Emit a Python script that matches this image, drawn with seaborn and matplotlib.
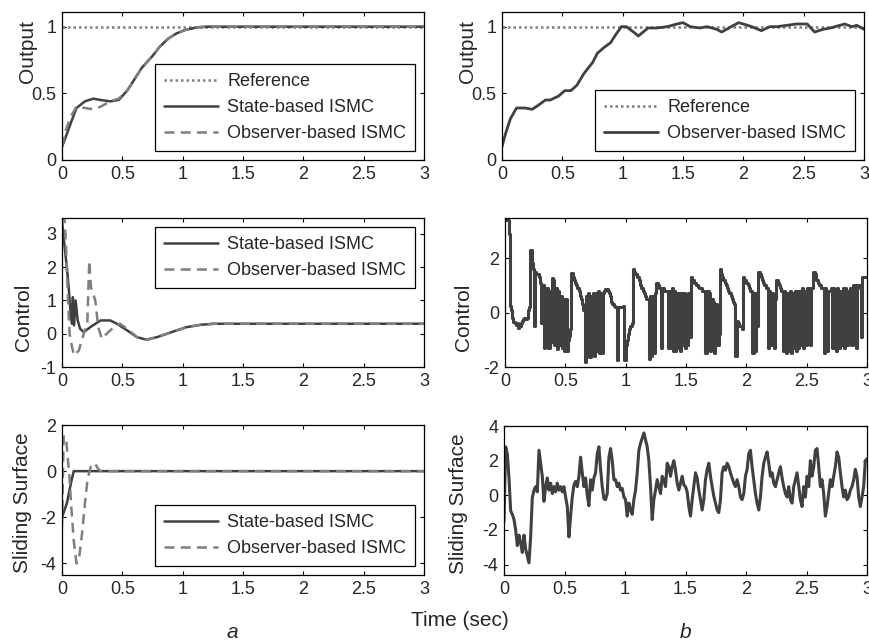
import numpy as np
import pandas as pd
import matplotlib
matplotlib.use("Agg")
import matplotlib.pyplot as plt
from matplotlib.ticker import FuncFormatter
import seaborn as sns

sns.set_theme(style="white")
plt.rcParams['font.family'] = ['Liberation Sans', 'DejaVu Sans']
FS_TICK = 13
FS_LEG = 13
FS_LAB = 15

DARK = "#404040"
GRAY = "#7f7f7f"

# ---------------- data: column a ----------------
t_out_a = [0, 0.03, 0.07, 0.12, 0.19, 0.26, 0.32, 0.4, 0.47, 0.54, 0.59, 0.66, 0.75,
           0.81, 0.88, 0.95, 1.02, 1.12, 1.2, 3.0]
out_state_a = [0.1, 0.17, 0.27, 0.39, 0.44, 0.46, 0.45, 0.44, 0.45, 0.52, 0.59, 0.69,
               0.78, 0.85, 0.91, 0.95, 0.975, 0.995, 1.0, 1.0]
out_obs_a = [0.1, 0.22, 0.32, 0.40, 0.39, 0.38, 0.40, 0.44, 0.46, 0.52, 0.59, 0.69,
             0.78, 0.85, 0.91, 0.95, 0.975, 0.995, 1.0, 1.0]
reference = [1.0, 1.0]
t_ref = [0, 3]

t_ctrl_state_a = [0, 0.01, 0.04, 0.055, 0.07, 0.083, 0.09, 0.10, 0.113, 0.13, 0.15, 0.18,
                  0.235, 0.32, 0.4, 0.455, 0.54, 0.62, 0.7, 0.79, 0.87, 0.95, 1.035,
                  1.15, 1.26, 3.0]
ctrl_state_a = [3.4, 3.0, 2.0, 1.4, 0.7, 0.3, 1.1, 0.25, 1.0, 0.4, 0.15, 0.05, 0.2, 0.4,
                0.4, 0.3, 0.1, -0.1, -0.18, -0.1, 0.0, 0.1, 0.2, 0.27, 0.3, 0.3]
t_ctrl_obs_a = [0, 0.02, 0.035, 0.05, 0.063, 0.083, 0.1, 0.14, 0.18, 0.21, 0.226, 0.24,
                0.276, 0.30, 0.33, 0.37, 0.43, 0.48, 0.54, 0.62, 0.7, 0.79, 0.87, 0.95,
                1.035, 1.15, 1.26, 3.0]
ctrl_obs_a = [3.4, 3.5, 2.5, 1.0, 0.0, -0.4, -0.65, -0.5, 0.0, 0.35, 2.2, 1.4, 1.0, 0.2,
              -0.15, 0.0, 0.2, 0.3, 0.15, -0.1, -0.18, -0.1, 0.0, 0.1, 0.2, 0.27, 0.3, 0.3]

t_ss_state_a = [0, 0.04, 0.075, 0.097, 3.0]
ss_state_a = [-2.0, -1.4, -0.5, 0.0, 0.0]
t_ss_obs_a = [0, 0.014, 0.033, 0.047, 0.062, 0.075, 0.097, 0.12, 0.14, 0.166, 0.193,
              0.213, 0.24, 0.27, 0.3, 0.32, 3.0]
ss_obs_a = [-2.4, 1.5, 1.5, 0.6, -0.25, -1.4, -3.0, -4.0, -3.85, -2.7, -1.25, -0.3,
            0.2, 0.35, 0.1, 0.0, 0.0]

# ---------------- data: column b ----------------
t_out_b = [0, 0.03, 0.07, 0.12, 0.19, 0.25, 0.3, 0.36, 0.4, 0.47, 0.52, 0.57, 0.62,
           0.68, 0.75, 0.79, 0.84, 0.9, 0.95, 0.99, 1.03, 1.09, 1.13, 1.17, 1.21, 1.28,
           1.37, 1.45, 1.5, 1.56, 1.64, 1.70, 1.78, 1.82, 1.88, 1.96, 2.0, 2.07, 2.15,
           2.22, 2.28, 2.36, 2.44, 2.53, 2.59, 2.66, 2.72, 2.8, 2.84, 2.9, 2.94, 3.0]
out_b = [0.1, 0.2, 0.31, 0.39, 0.39, 0.38, 0.41, 0.45, 0.45, 0.48, 0.52, 0.52, 0.56,
         0.65, 0.73, 0.8, 0.84, 0.88, 0.95, 1.0, 1.0, 0.96, 0.93, 0.96, 0.99, 0.99,
         1.0, 1.02, 1.03, 1.0, 0.99, 1.0, 0.98, 0.96, 0.99, 1.03, 1.02, 1.0, 0.97,
         1.0, 1.0, 1.01, 1.02, 1.02, 0.96, 0.98, 0.99, 1.01, 1.02, 1.0, 1.01, 0.98]

# control, sampled every 0.01 s (301 values)
ctrl_b = [
    3.4, 3.5, 3.4, 2.9, 0.25, 0.1, -0.2, -0.35, -0.4, -0.45,
    -0.4, -0.55, -0.5, -0.4, -0.3, -0.25, -0.2, -0.25, -0.2, 0.1,
    0.2, 2.3, 1.8, 1.6, -0.5, 1.5, 1.4, 1.4, 1.3, 1.1,
    -0.4, 1.0, -1.3, 0.9, -1.2, 0.9, -1.3, 0.8, -1.1, 1.25,
    1.2, -1.2, 0.9, -1.35, 0.8, -1.2, 0.6, -1.3, 0.5, -1.4,
    0.5, -1.4, -1.0, -0.85, -0.6, 1.45, 1.3, 1.2, 1.1, 1.0,
    0.9, 0.8, 0.6, 0.5, 0.3, 0.1, -1.8, 0.6, -1.6, 0.7,
    -1.65, 0.6, -1.5, 0.7, -1.6, 0.7, -1.4, 0.8, -1.5, 0.7,
    -1.5, 0.7, 0.8, 0.85, 0.85, 0.8, 0.7, 0.6, 0.4, 0.3,
    0.25, 0.2, 0.2, -1.75, 0.2, 0.2, 0.2, 0.2, 0.25, -1.75,
    -1.2, -1.0, -0.8, -0.6, -0.5, -0.4, 1.6, 1.5, 1.4, 1.3,
    1.3, 1.2, 1.0, 0.9, 0.8, 0.7, 0.6, 0.5, 0.5, -1.7,
    0.6, -1.6, 0.6, -1.5, 0.7, 1.1, 1.1, 1.0, 0.9, -1.3,
    0.9, 0.9, 0.8, 0.8, 0.8, -1.3, 0.8, -1.3, 0.9, -1.4,
    0.8, -1.4, 0.7, -1.3, 0.7, -1.4, 0.7, -1.2, 0.7, -1.3,
    0.6, -1.2, 0.7, -0.9, 1.3, 1.2, 1.2, 1.1, 1.0, 1.0,
    0.95, 0.9, 0.9, 0.8, 0.8, 0.8, -1.5, 0.8, 0.8, 0.7,
    -1.4, 0.5, 0.4, -1.5, 0.3, 0.3, -1.2, -0.8, 1.6, 1.4,
    1.3, 1.2, 1.1, 1.0, 0.9, 0.8, 0.7, 0.6, 0.5, 0.4,
    0.3, -1.6, -0.3, -0.4, -0.5, -0.5, -0.6, 1.3, 1.2, 1.2,
    1.1, 1.0, 0.9, 0.8, 0.8, -1.5, 0.7, -1.4, 0.7, -0.5,
    1.5, 1.4, 1.3, 1.2, 1.1, 1.0, 0.9, 0.9, -1.3, 0.8,
    -1.2, 0.7, 0.6, -1.3, 0.5, 1.2, 1.1, 1.0, 0.9, 0.8,
    -1.4, 0.8, -1.4, -1.5, 0.7, -1.4, 0.8, -1.5, 0.7, -1.3,
    0.8, -1.4, 0.8, -1.3, 0.8, -1.2, 0.9, -1.3, 0.8, -1.2,
    0.9, -1.1, 0.9, -1.2, 0.9, 1.5, 1.5, 1.4, 1.2, 1.1,
    1.0, 1.0, 0.9, 0.9, -1.5, 0.9, -1.4, -1.4, 0.8, 0.8,
    0.9, -1.3, 0.9, -1.3, -1.4, 0.9, -1.2, -1.3, 0.8, -1.2,
    0.9, -1.3, 0.9, -1.2, 0.8, -1.1, 0.9, -1.2, 1.0, 1.0,
    1.0, -1.3, 1.0, 1.0, 0.9, -0.9, 1.3, 1.3, 1.3, 1.3,
    1.3,
]

ss_b = [
    -1.5, 2.8, 2.4, 1.0, -0.9, -1.1, -1.4, -2.0, -2.9, -2.3,
    -2.75, -3.3, -2.3, -3.1, -3.5, -3.9, -2.4, -0.15, 0.3, 0.5,
    0.2, 2.6, 1.85, 1.1, -0.35, 0.5, 1.0, 0.3, 0.7, 0.1,
    0.5, 0.2, 0.7, 0.3, 0.5, 0.2, 0.5, -0.1, -0.65, -2.4,
    -1.2, -0.1, 0.6, 0.8, 0.5, 1.1, 2.2, 1.3, 0.5, 1.0,
    0.0, -0.6, 0.9, 0.3, 1.0, 1.3, 2.4, 2.8, 1.5, 0.5,
    -0.2, -0.25, 0.1, 2.2, 2.7, 2.0, 0.9, 0.9, 0.5, 0.7,
    0.3, 0.4, -0.1, -0.25, -1.2, -0.45, -0.85, -1.1, -0.25, 0.3,
    1.3, 2.6, 3.0, 3.3, 3.6, 3.2, 2.8, 2.0, 0.5, -1.4,
    -0.25, 0.3, 0.9, 0.5, 0.1, 1.1, 0.9, 0.5, 1.85, 1.65,
    1.1, 1.65, 2.0, 1.45, 0.7, 0.3, 0.7, 1.1, 0.6,
    0.5, 0.2, -0.65, -1.2, -0.25, 0.5, 1.3, 1.0, 0.3, -0.25,
    -0.85, -0.25, 0.9, 1.5, 1.85, 1.1, 0.5, -0.05, -0.45, -0.85,
    -1.0, -0.25, 1.3, 1.65, 1.45, 1.85, 1.65, 1.3, 1.0, 0.7,
    0.5, 0.9, 0.5, -0.1, -0.25, 0.1, 1.1, 1.5, 2.4, 2.6,
    1.65, 0.9, 0.1, -0.45, -0.85, -0.1, 1.1, 1.85, 2.2, 2.5,
    1.85, 1.1, 1.3, 0.7, 0.5, 0.9, 1.3, 1.65, 1.0, 0.5,
    0.1, -0.1, 0.5, -0.25, -0.45, 0.5, 0.9, 1.3, 0.5, -0.25,
    -0.65, 0.5, -0.1, 1.1, 0.5, 2.0, 1.1, 1.65, 2.6, 2.7,
    1.65, 0.5, 0.9, 0.1, -1.2, -0.65, 0.1, 0.9, 0.5, 1.1,
    1.65, 2.5, 2.2, 1.3, 0.5, -0.1, 0.3, -0.25, -0.1, 0.3,
    0.5, 0.9, 1.5, 1.1, -0.1, -0.65, -0.1, 0.5, 2.0, 2.1,
]

t_ctrl_b = np.linspace(0, 3, len(ctrl_b))
t_ss_b = np.linspace(0, 3, len(ss_b))

xticks = [0, 0.5, 1, 1.5, 2, 2.5, 3]
fmt = FuncFormatter(lambda v, p: f"{v:g}")

# ---------------- figure ----------------
W, H = 870, 642
fig = plt.figure(figsize=(W / 100, H / 100), dpi=100)


def make_ax(l, r, top, bot):
    return fig.add_axes([l / W, 1 - bot / H, (r - l) / W, (bot - top) / H])


axes = {
    "TL": make_ax(62, 424, 12, 160),
    "TR": make_ax(502, 864, 12, 160),
    "ML": make_ax(62, 424, 218, 367),
    "MR": make_ax(505, 867, 218, 367),
    "BL": make_ax(62, 424, 425, 575),
    "BR": make_ax(504, 867, 426, 575),
}


def line(ax, x, y, **kw):
    df = pd.DataFrame({"t": x, "y": y})
    sns.lineplot(data=df, x="t", y="y", ax=ax, estimator=None, sort=False, **kw)


DOT = (0, (1, 1.2))
DASH = (0, (4, 2.5))

# Top-left
ax = axes["TL"]
line(ax, t_ref, reference, color=GRAY, lw=1.8, ls=DOT, label="Reference")
line(ax, t_out_a, out_state_a, color=DARK, lw=1.8, label="State-based ISMC")
line(ax, t_out_a, out_obs_a, color=GRAY, lw=1.8, ls=DASH, label="Observer-based ISMC")
ax.set_ylim(0, 1.11)
ax.set_yticks([0, 0.5, 1])
ax.set_ylabel("Output")

# Top-right
ax = axes["TR"]
line(ax, t_ref, reference, color=GRAY, lw=1.8, ls=DOT, label="Reference")
line(ax, t_out_b, out_b, color=DARK, lw=2.0, label="Observer-based ISMC")
ax.set_ylim(0, 1.11)
ax.set_yticks([0, 0.5, 1])
ax.set_ylabel("Output")

# Middle-left
ax = axes["ML"]
line(ax, t_ctrl_state_a, ctrl_state_a, color=DARK, lw=1.8, label="State-based ISMC")
line(ax, t_ctrl_obs_a, ctrl_obs_a, color=GRAY, lw=1.8, ls=DASH, label="Observer-based ISMC")
ax.set_ylim(-1, 3.48)
ax.set_yticks([-1, 0, 1, 2, 3])
ax.set_ylabel("Control")

# Middle-right
ax = axes["MR"]
line(ax, t_ctrl_b, ctrl_b, color=DARK, lw=2.2, drawstyle="steps-post")
ax.set_ylim(-2, 3.47)
ax.set_yticks([-2, 0, 2])
ax.set_ylabel("Control")

# Bottom-left
ax = axes["BL"]
line(ax, t_ss_state_a, ss_state_a, color=DARK, lw=1.8, label="State-based ISMC")
line(ax, t_ss_obs_a, ss_obs_a, color=GRAY, lw=1.8, ls=DASH, label="Observer-based ISMC")
ax.set_ylim(-4.5, 2)
ax.set_yticks([-4, -2, 0, 2])
ax.set_ylabel("Sliding Surface")

# Bottom-right
ax = axes["BR"]
line(ax, t_ss_b, ss_b, color=DARK, lw=2.2)
ax.set_ylim(-4.6, 4)
ax.set_yticks([-4, -2, 0, 2, 4])
ax.set_ylabel("Sliding Surface")

label_xy = {"TL": (-0.069, 0.736), "TR": (-0.069, 0.736),
            "ML": (-0.08, 0.336), "MR": (-0.088, 0.336),
            "BL": (-0.083, 0.48), "BR": (-0.099, 0.48)}
for key, ax in axes.items():
    ax.set_xlim(0, 3)
    ax.set_xticks(xticks)
    ax.xaxis.set_major_formatter(fmt)
    ax.yaxis.set_major_formatter(fmt)
    ax.set_xlabel("")
    ax.yaxis.label.set_size(FS_LAB)
    ax.yaxis.set_label_coords(*label_xy[key])
    ax.tick_params(direction="in", length=3, width=0.8, labelsize=FS_TICK, color="black",
                   top=True, right=True, bottom=True, left=True, pad=4)
    for s in ax.spines.values():
        s.set_visible(True)
        s.set_color("black")
        s.set_linewidth(0.9)
    ax.set_facecolor("white")
    leg = ax.get_legend()
    if leg is not None:
        leg.remove()


def style_legend(ax, loc, order):
    h, l = ax.get_legend_handles_labels()
    lg = ax.legend([h[i] for i in order], [l[i] for i in order], loc=loc,
                   fontsize=FS_LEG, frameon=True, fancybox=False,
                   shadow=False, handlelength=3.0, handletextpad=0.5, labelspacing=0.5,
                   borderpad=0.5, borderaxespad=0.5)
    lg.get_frame().set_edgecolor("black")
    lg.get_frame().set_linewidth(0.9)
    lg.get_frame().set_facecolor("white")
    lg.get_frame().set_alpha(1)


style_legend(axes["TL"], "lower right", [0, 1, 2])
style_legend(axes["TR"], "lower right", [0, 1])
style_legend(axes["ML"], "upper right", [0, 1])
style_legend(axes["BL"], "lower right", [0, 1])

fig.text(460 / W, 1 - 620 / H, "Time (sec)", ha="center", va="center", fontsize=FS_LAB)
fig.text(232 / W, 1 - 632 / H, "a", ha="center", va="center", fontsize=FS_LAB, style="italic")
fig.text(686 / W, 1 - 632 / H, "b", ha="center", va="center", fontsize=FS_LAB, style="italic")

fig.savefig("out.png", dpi=100, facecolor="white")
